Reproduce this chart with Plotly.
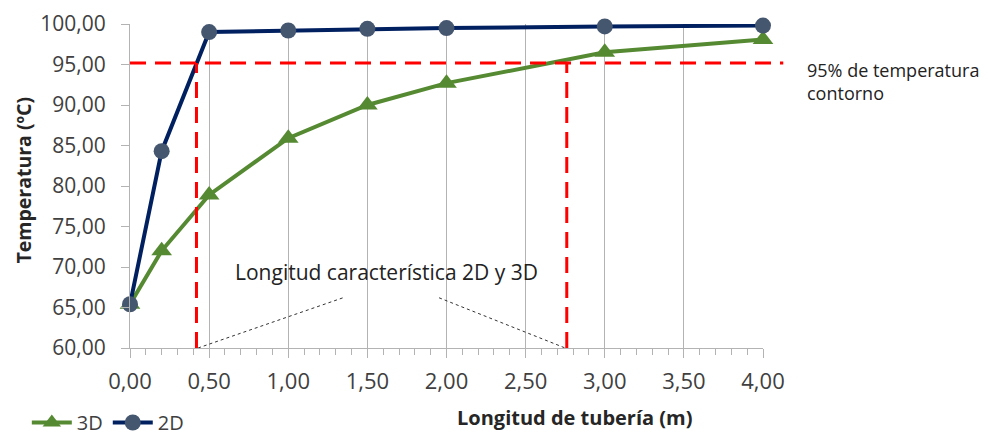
import plotly.graph_objects as go

# Data
x_vals = [0.0, 0.2, 0.5, 1.0, 1.5, 2.0, 3.0, 4.0]
temp_3d = [65.4, 72.0, 78.9, 85.9, 90.0, 92.7, 96.5, 98.1]
temp_2d = [65.4, 84.3, 99.0, 99.2, 99.4, 99.5, 99.7, 99.8]
x_ticks = [0.0, 0.5, 1.0, 1.5, 2.0, 2.5, 3.0, 3.5, 4.0]
y_ticks = [60, 65, 70, 75, 80, 85, 90, 95, 100]

level_95 = 95.2
char_len_2d = 0.42
char_len_3d = 2.76

FONT = "Open Sans"
GREEN = "#568A32"
NAVY = "#002060"
MARK2D = "#45566F"
RED = "#FF0000"
GRID = "#B3B3B3"

fig = go.Figure()
fig.add_trace(go.Scatter(
    x=x_vals, y=temp_3d, name="3D", mode="lines+markers", cliponaxis=False,
    line=dict(color=GREEN, width=4),
    marker=dict(symbol="triangle-up", size=18, color=GREEN),
))
fig.add_trace(go.Scatter(
    x=x_vals, y=temp_2d, name="2D", mode="lines+markers", cliponaxis=False,
    line=dict(color=NAVY, width=4),
    marker=dict(symbol="circle", size=16, color=MARK2D),
))

# red dashed reference lines
fig.add_shape(type="line", xref="paper", yref="y", x0=0, x1=1.032,
              y0=level_95, y1=level_95,
              line=dict(color=RED, width=3, dash="16px,9px"))
for xv in (char_len_2d, char_len_3d):
    fig.add_shape(type="line", xref="x", yref="y", x0=xv, x1=xv,
                  y0=60, y1=level_95,
                  line=dict(color=RED, width=3, dash="16px,9px"))

# dotted leader lines
leaders = [((0.43, 60.0), (1.346, 66.2)), ((1.953, 66.2), (2.75, 60.0))]
for (xa, ya), (xb, yb) in leaders:
    fig.add_shape(type="line", xref="x", yref="y", x0=xa, y0=ya, x1=xb, y1=yb,
                  line=dict(color="#333333", width=1, dash="dot"))

fig.add_annotation(text="Longitud característica 2D y 3D", xref="x", yref="y",
                   x=1.62, y=69.4, showarrow=False,
                   font=dict(family=FONT, size=21, color="#222222"))
fig.add_annotation(text="95% de temperatura<br>contorno", xref="paper", yref="paper",
                   x=1.066, y=0.90, xanchor="left", yanchor="top", align="left",
                   showarrow=False,
                   font=dict(family=FONT, size=18, color="#222222"))
fig.add_annotation(text="<b>Longitud de tubería (m)</b>", xref="paper", yref="paper",
                   x=0.703, y=-0.213, xanchor="center", yanchor="middle",
                   showarrow=False,
                   font=dict(family=FONT, size=20, color="#262626"))
fig.add_annotation(text="<b>Temperatura (ºC)</b>", xref="paper", yref="paper",
                   x=-0.168, y=0.519, xanchor="center", yanchor="middle",
                   textangle=-90, showarrow=False,
                   font=dict(family=FONT, size=19.5, color="#262626"))

fig.update_layout(
    width=980, height=431,
    margin=dict(l=122, r=225, t=16, b=91, autoexpand=False),
    paper_bgcolor="white", plot_bgcolor="white",
    separators=",.",
    font=dict(family=FONT, size=21, color="#404040"),
    showlegend=True,
    legend=dict(orientation="h", x=-0.163, y=-0.23, xanchor="left", yanchor="middle",
                font=dict(family=FONT, size=20, color="#404040"),
                itemwidth=40, tracegroupgap=0, bgcolor="rgba(0,0,0,0)"),
)
fig.update_xaxes(
    range=[0, 4], tickvals=x_ticks, tickformat=".2f", automargin=False,
    showgrid=True, gridcolor=GRID, gridwidth=1,
    showline=True, linecolor=GRID, linewidth=1,
    ticks="outside", ticklen=9, tickcolor=GRID, ticklabelstandoff=5,
    ticklabeloverflow="allow",
    minor=dict(dtick=0.1, ticks="outside", ticklen=6, tickcolor=GRID, showgrid=False),
    zeroline=False,
    tickfont=dict(family=FONT, size=22, color="#404040"),
)
fig.update_yaxes(
    range=[60, 100], tickvals=y_ticks, tickformat=".2f", automargin=False,
    showgrid=False, showline=True, linecolor=GRID, linewidth=1,
    ticks="outside", ticklen=8, tickcolor=GRID, ticklabelstandoff=11, zeroline=False,
    ticklabeloverflow="allow",
    tickfont=dict(family=FONT, size=21, color="#404040"),
)

fig.write_html("out.html")
